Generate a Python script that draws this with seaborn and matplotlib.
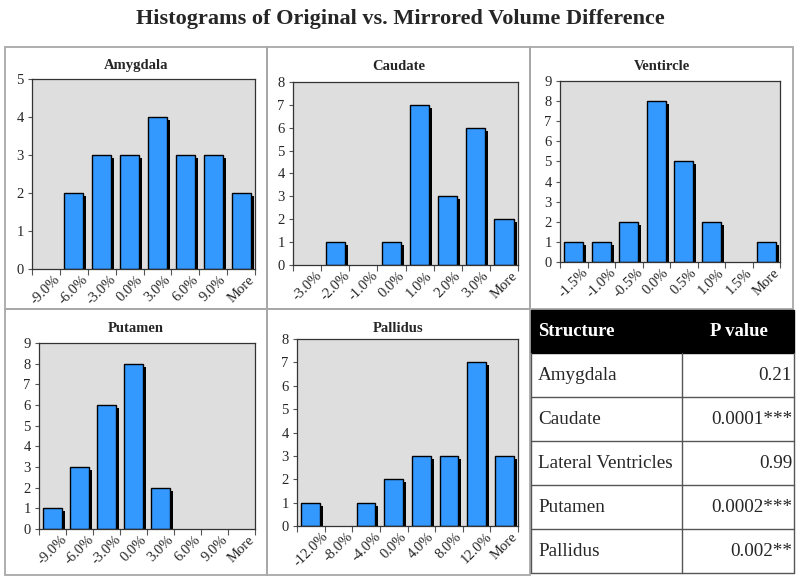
import numpy as np
import pandas as pd
import matplotlib
matplotlib.use('Agg')
import matplotlib.pyplot as plt
import matplotlib.transforms as mtrans
from matplotlib.patches import Rectangle
import seaborn as sns

# ---------------- data ----------------
amyg_labels = ['-9.0%', '-6.0%', '-3.0%', '0.0%', '3.0%', '6.0%', '9.0%', 'More']
amyg_counts = [0, 2, 3, 3, 4, 3, 3, 2]

caud_labels = ['-3.0%', '-2.0%', '-1.0%', '0.0%', '1.0%', '2.0%', '3.0%', 'More']
caud_counts = [0, 1, 0, 1, 7, 3, 6, 2]

vent_labels = ['-1.5%', '-1.0%', '-0.5%', '0.0%', '0.5%', '1.0%', '1.5%', 'More']
vent_counts = [1, 1, 2, 8, 5, 2, 0, 1]

put_labels = ['-9.0%', '-6.0%', '-3.0%', '0.0%', '3.0%', '6.0%', '9.0%', 'More']
put_counts = [1, 3, 6, 8, 2, 0, 0, 0]

pall_labels = ['-12.0%', '-8.0%', '-4.0%', '0.0%', '4.0%', '8.0%', '12.0%', 'More']
pall_counts = [1, 0, 1, 2, 3, 3, 7, 3]

table_header = ['Structure', 'P value']
table_structures = ['Amygdala', 'Caudate', 'Lateral Ventricles', 'Putamen', 'Pallidus']
table_pvalues = ['0.21', '0.0001***', '0.99', '0.0002***', '0.002**']

# ---------------- style ----------------
sns.set_style('white')
plt.rcParams['font.family'] = ['Liberation Serif', 'DejaVu Serif']

W, H = 800, 579
fig = plt.figure(figsize=(W / 100, H / 100), dpi=100)

bg = fig.add_axes([0, 0, 1, 1])
bg.set_xlim(0, W)
bg.set_ylim(H, 0)
bg.axis('off')


def px_axes(l, t, r, b):
    return fig.add_axes([l / W, 1 - b / H, (r - l) / W, (b - t) / H])


BLUE = '#3399FF'
GRID = '#A8A8A8'

fig.text(0.5, 1 - 19 / H, 'Histograms of Original vs. Mirrored Volume Difference',
         ha='center', va='center', fontsize=16, weight='bold')

# panel cell borders
cells = [(5, 47, 267, 309), (267, 47, 530, 309), (530, 47, 793, 309),
         (5, 309, 267, 575), (267, 309, 530, 575)]
for (l, t, r, b) in cells:
    bg.add_patch(Rectangle((l, t), r - l, b - t, fill=False, edgecolor=GRID, lw=1.3))


def hist_panel(rect, cell, title, title_y, labels, counts, ymax):
    ax = px_axes(*rect)
    df = pd.DataFrame({'bin': labels, 'count': counts})
    sns.barplot(data=df, x='bin', y='count', color='black', width=0.68,
                saturation=1, linewidth=0, ax=ax)
    shadow_tr = mtrans.offset_copy(ax.transData, fig=fig, x=3, y=-3, units='dots')
    for p in list(ax.patches):
        p.set_transform(shadow_tr)
    sns.barplot(data=df, x='bin', y='count', color=BLUE, width=0.68,
                saturation=1, edgecolor='black', linewidth=1.0, ax=ax)
    for p in ax.patches:
        if p.get_height() == 0:
            p.set_visible(False)
    ax.set_facecolor('#DEDEDE')
    ax.set_xlim(-0.5, len(labels) - 0.5)
    ax.set_ylim(0, ymax)
    ax.set_yticks(range(ymax + 1))
    ax.set_xticks(np.arange(len(labels) + 1) - 0.5, minor=True)
    ax.tick_params(axis='x', which='major', length=0, pad=3, rotation=45,
                   labelsize=10.5)
    ax.tick_params(axis='x', which='minor', length=4, width=0.8,
                   direction='out', color='#555555', bottom=True)
    ax.tick_params(axis='y', which='major', length=3, width=0.8,
                   direction='out', color='#555555', left=True, pad=3,
                   labelsize=10.5)
    ax.set_xlabel('')
    ax.set_ylabel('')
    for s in ax.spines.values():
        s.set_color('#333333')
        s.set_linewidth(0.9)
        s.set_visible(True)
    cx = (cell[0] + cell[2]) / 2
    bg.text(cx, title_y, title, ha='center', va='center', weight='bold',
            fontsize=10.5)
    return ax


hist_panel((32, 79, 255, 269), cells[0], 'Amygdala', 66, amyg_labels, amyg_counts, 5)
hist_panel((293, 82, 518, 265), cells[1], 'Caudate', 66, caud_labels, caud_counts, 8)
hist_panel((560, 81, 780, 262), cells[2], 'Ventircle', 66, vent_labels, vent_counts, 9)
hist_panel((39, 343, 255, 529), cells[3], 'Putamen', 328, put_labels, put_counts, 9)
hist_panel((297, 339, 518, 526), cells[4], 'Pallidus', 328, pall_labels, pall_counts, 8)

# ---------------- table ----------------
tl, tr, tdiv = 531, 794, 682
ttop, thead, rowh = 310, 353, 44
bg.add_patch(Rectangle((tl, ttop), tr - tl, thead - ttop, facecolor='black',
                       edgecolor='black', lw=1))
bg.text(tl + 7, (ttop + thead) / 2, table_header[0], color='white',
        weight='bold', fontsize=13.5, ha='left', va='center')
bg.text((tdiv + tr) / 2 + 1, (ttop + thead) / 2, table_header[1], color='white',
        weight='bold', fontsize=13.5, ha='center', va='center')
LINE = '#555555'
nrows = len(table_structures)
bottom = thead + rowh * nrows
for i, (s, pv) in enumerate(zip(table_structures, table_pvalues)):
    y0 = thead + i * rowh
    bg.plot([tl, tr], [y0 + rowh, y0 + rowh], color=LINE, lw=1)
    bg.text(tl + 7, y0 + rowh / 2 + 1, s, fontsize=13.8, ha='left', va='center')
    bg.text(tr - 2, y0 + rowh / 2 + 1, pv, fontsize=13.8, ha='right', va='center')
bg.plot([tl, tl], [thead, bottom], color=LINE, lw=1)
bg.plot([tr, tr], [thead, bottom], color=LINE, lw=1)
bg.plot([tdiv, tdiv], [thead, bottom], color=LINE, lw=1)

fig.savefig('out.png', dpi=100)
